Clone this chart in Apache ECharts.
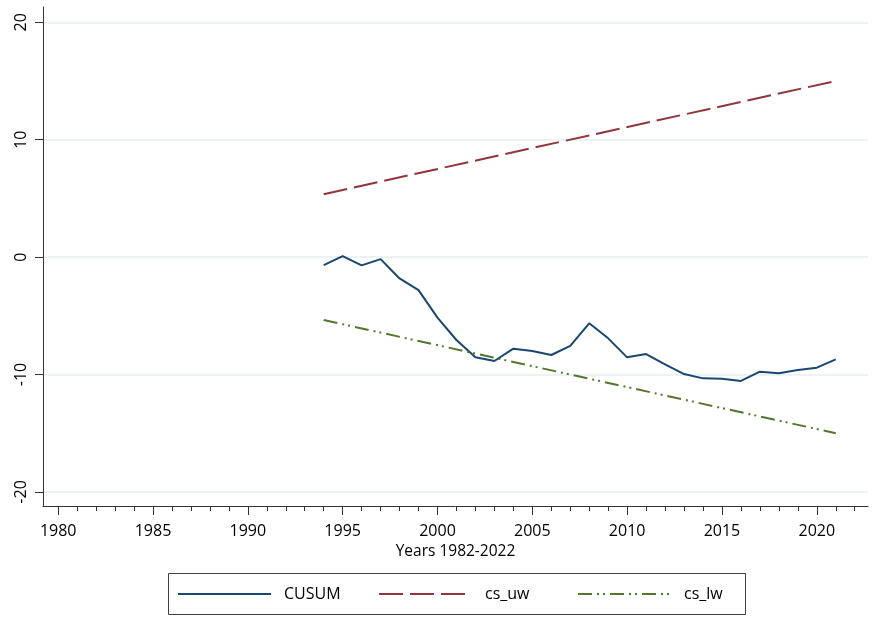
<!DOCTYPE html>
<html>
<head>
<meta charset="utf-8">
<script src="https://cdn.jsdelivr.net/npm/echarts@6/dist/echarts.min.js"></script>
<style>
html,body{margin:0;padding:0;background:#fff;}
#chart{width:873px;height:619px;}
</style>
</head>
<body>
<div id="chart"></div>
<script>
// ---- data ----
const years = [1994,1995,1996,1997,1998,1999,2000,2001,2002,2003,2004,2005,2006,2007,2008,2009,2010,2011,2012,2013,2014,2015,2016,2017,2018,2019,2020,2021];
const cusum = [-0.68,0.08,-0.71,-0.17,-1.82,-2.81,-5.16,-7.06,-8.54,-8.85,-7.80,-8.00,-8.34,-7.57,-5.64,-6.92,-8.54,-8.26,-9.13,-9.96,-10.33,-10.36,-10.55,-9.76,-9.90,-9.62,-9.42,-8.71];
const boundYears = [1994, 2021];
const csUw = [5.36, 15.0];
const csLw = [-5.36, -15.0];
const xMajorTicks = [1980,1985,1990,1995,2000,2005,2010,2015,2020];
const xMinorTicks = [1980,1981,1982,1983,1984,1985,1986,1987,1988,1989,1990,1991,1992,1993,1994,1995,1996,1997,1998,1999,2000,2001,2002,2003,2004,2005,2006,2007,2008,2009,2010,2011,2012,2013,2014,2015,2016,2017,2018,2019,2020,2021,2022];
const yTicks = [-20,-10,0,10,20];
const seriesNames = ['CUSUM','cs_uw','cs_lw'];
const xTitle = 'Years 1982-2022';

const FONT = 'Open Sans';
const zip = (xs, ys) => xs.map((x, i) => [x, ys[i]]);
const legendLefts = [177, 378, 577];

const chart = echarts.init(document.getElementById('chart'), null, {renderer: 'canvas'});
chart.setOption({
  animation: false,
  backgroundColor: '#ffffff',
  textStyle: {fontFamily: FONT},
  grid: {left: 43, right: 5, top: 7, bottom: 113},
  graphic: [{
    type: 'rect', silent: true, z: -1,
    shape: {x: 168.5, y: 573.5, width: 577, height: 41},
    style: {fill: 'none', stroke: '#404040', lineWidth: 1}
  }],
  legend: seriesNames.map((n, i) => ({
    left: legendLefts[i], top: 586,
    padding: 0,
    itemWidth: 93, itemHeight: 16,
    itemStyle: {opacity: 0},
    textStyle: {fontFamily: FONT, fontSize: 16, lineHeight: 16, color: '#000', padding: [0, 0, 0, 8]},
    data: [n]
  })),
  xAxis: [{
    type: 'value', min: 1979.2, max: 2022.7,
    name: xTitle, nameLocation: 'middle', nameGap: 35,
    nameTextStyle: {fontFamily: FONT, fontSize: 15.5, color: '#000'},
    axisLine: {show: true, onZero: false, lineStyle: {color: '#333', width: 1}},
    axisTick: {show: true, length: 9, customValues: xMajorTicks, lineStyle: {color: '#333'}},
    axisLabel: {customValues: xMajorTicks, formatter: v => String(v), fontFamily: FONT, fontSize: 16, color: '#000', margin: 17},
    splitLine: {show: false}
  }, {
    type: 'value', min: 1979.2, max: 2022.7, position: 'bottom',
    axisLine: {show: false, onZero: false},
    axisTick: {show: true, length: 5, customValues: xMinorTicks, lineStyle: {color: '#333'}},
    axisLabel: {show: false},
    splitLine: {show: false}
  }],
  yAxis: {
    type: 'value', min: -21.2, max: 21.3,
    axisLine: {show: true, onZero: false, lineStyle: {color: '#333', width: 1}},
    axisTick: {show: true, length: 8, customValues: yTicks, lineStyle: {color: '#333'}},
    axisLabel: {customValues: yTicks, formatter: v => String(v), rotate: 90, fontFamily: FONT, fontSize: 16, color: '#000', margin: 14},
    splitLine: {show: true, lineStyle: {color: '#e6eff1', width: 1.5}}
  },
  series: [{
    name: seriesNames[0], type: 'line', xAxisIndex: 0, showSymbol: false, symbol: 'none',
    data: zip(years, cusum),
    lineStyle: {color: '#1a476f', width: 2}, itemStyle: {color: '#1a476f'}
  }, {
    name: seriesNames[1], type: 'line', xAxisIndex: 0, showSymbol: false, symbol: 'none',
    data: zip(boundYears, csUw),
    lineStyle: {color: '#90353b', width: 2, type: [24, 7]}, itemStyle: {color: '#90353b'}
  }, {
    name: seriesNames[2], type: 'line', xAxisIndex: 0, showSymbol: false, symbol: 'none',
    data: zip(boundYears, csLw),
    lineStyle: {color: '#55752f', width: 2, type: [14, 5, 2, 4, 2, 5]}, itemStyle: {color: '#55752f'}
  }]
});
</script>
</body>
</html>
